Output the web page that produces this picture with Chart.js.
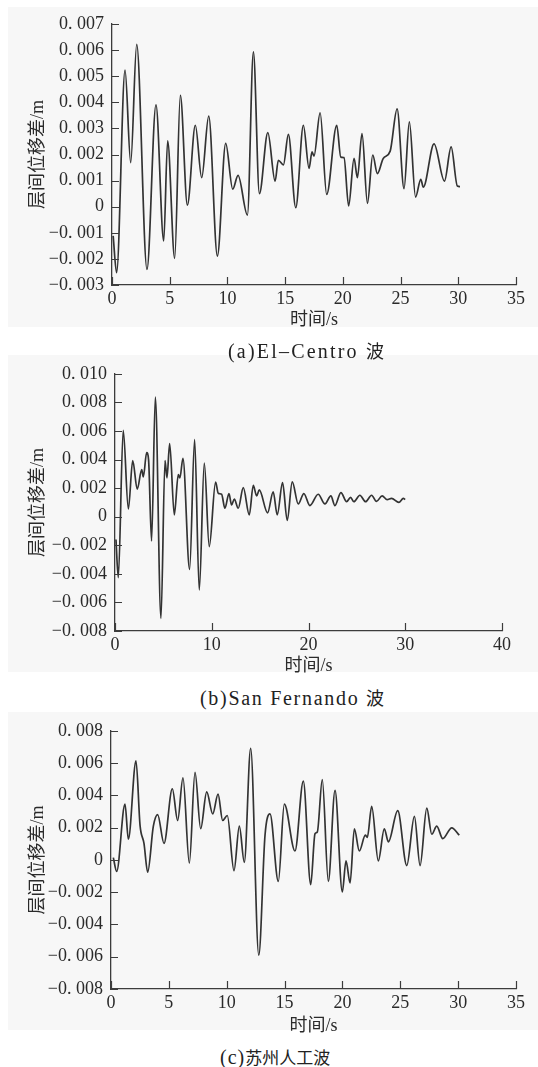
<!DOCTYPE html>
<html>
<head>
<meta charset="utf-8">
<script src="https://cdn.jsdelivr.net/npm/chart.js@4.4.1/dist/chart.umd.min.js"></script>
<style>
  html, body { margin: 0; padding: 0; background: #ffffff; }
  body { width: 538px; height: 1067px; position: relative; overflow: hidden; }
  .panel { position: absolute; background: #f7f7f7; }
  canvas { position: absolute; left: 0; }
  .cap { position: absolute; white-space: nowrap; font-family: 'Liberation Serif', 'Noto Sans CJK SC';
         font-size: 20px; color: #222; line-height: 24px; }
  .cap .zh { font-size: 18px; letter-spacing: 0; }
</style>
</head>
<body>
<div class="panel" style="left:8px;top:7px;width:530px;height:320px;"></div>
<div class="panel" style="left:8px;top:355px;width:530px;height:317px;"></div>
<div class="panel" style="left:8px;top:712px;width:530px;height:318px;"></div>

<canvas id="ca" width="538" height="335" style="top:0px;"></canvas>
<canvas id="cb" width="538" height="325" style="top:355px;"></canvas>
<canvas id="cc" width="538" height="328" style="top:712px;"></canvas>

<div class="cap" style="left:228px;top:339px;letter-spacing:2.2px;">(a)El–Centro <span class="zh">波</span></div>
<div class="cap" style="left:200px;top:686px;letter-spacing:1.7px;">(b)San Fernando <span class="zh">波</span></div>
<div class="cap" style="left:220px;top:1045px;letter-spacing:1px;">(c)<span class="zh" style="font-size:17px;">苏州人工波</span></div>

<script>
// ---------- data (time in s, drift in m) ----------
const timeA = [0.1, 0.4, 1.13, 1.62, 2.14, 3.03, 3.81, 4.48, 4.82, 5.43, 5.92, 6.53, 7.22, 7.77, 8.38, 9.13, 9.85, 10.46, 10.92, 11.73, 12.25, 12.77, 13.5, 14.13, 14.41, 14.85, 15.28, 15.92, 16.58, 17.07, 17.33, 17.5, 18.03, 18.6, 19.47, 19.82, 20.1, 20.5, 20.97, 21.26, 21.66, 22.13, 22.59, 22.99, 23.5, 24.1, 24.7, 25.3, 25.76, 26.3, 26.75, 26.97, 27.9, 28.8, 29.38, 29.92, 30.15];
const driftA = [-0.00112, -0.00253, 0.00523, 0.00169, 0.00622, -0.0024, 0.0039, -0.00131, 0.00252, -0.00198, 0.00427, 0.00006, 0.00312, 0.00111, 0.00347, -0.00189, 0.00243, 0.00067, 0.0012, -0.00032, 0.00593, 0.0005, 0.00284, 0.00098, 0.00178, 0.0016, 0.00277, -0.00004, 0.00312, 0.00147, 0.0021, 0.00194, 0.0036, 0.00047, 0.00312, 0.0019, 0.00188, 0.00003, 0.00185, 0.00111, 0.0028, 0.00013, 0.00198, 0.00127, 0.00185, 0.00213, 0.00375, 0.00069, 0.00325, 0.00037, 0.00105, 0.00075, 0.00241, 0.00098, 0.00229, 0.00079, 0.00077];

const timeB = [0.1, 0.34, 0.85, 1.38, 1.83, 2.3, 2.76, 2.93, 3.27, 3.47, 3.78, 4.17, 4.75, 5.17, 5.37, 5.65, 6.13, 6.54, 6.71, 7.02, 7.71, 8.23, 8.71, 9.23, 9.74, 10.4, 10.67, 11.02, 11.36, 11.78, 12.05, 12.33, 12.74, 13.26, 13.88, 14.29, 14.64, 14.91, 15.77, 16.35, 16.77, 17.32, 17.8, 18.32, 18.94, 19.52, 20.14, 21.0, 21.7, 22.31, 22.73, 23.35, 23.94, 24.35, 24.69, 25.31, 25.9, 26.52, 27.03, 27.61, 28.13, 28.58, 29.34, 29.8, 30.0];
const driftB = [-0.0016, -0.00426, 0.00604, 0.00054, 0.00393, 0.00192, 0.00329, 0.00279, 0.00448, 0.00398, -0.0017, 0.00837, -0.00712, 0.00393, 0.00272, 0.00512, 0.00013, 0.00295, 0.00272, 0.00409, -0.00369, 0.0054, -0.00513, 0.00375, -0.00209, 0.00242, 0.00164, 0.00157, 0.00059, 0.00162, 0.00082, 0.00123, 0.00059, 0.00203, 0.00013, 0.00219, 0.00146, 0.00187, 0.00027, 0.00174, 0.00013, 0.00238, -0.00026, 0.00244, 0.00089, 0.00162, 0.00078, 0.00157, 0.00089, 0.00146, 0.00078, 0.00169, 0.00105, 0.00135, 0.00105, 0.0015, 0.00105, 0.0015, 0.00107, 0.00146, 0.00119, 0.00128, 0.001, 0.00128, 0.0012];

const timeC = [0.2, 0.49, 1.21, 1.5, 2.16, 2.51, 2.85, 3.17, 3.66, 4.03, 4.58, 5.3, 5.76, 6.22, 6.77, 7.26, 7.75, 8.27, 8.79, 9.25, 9.65, 10.05, 10.63, 11.09, 11.52, 12.07, 12.77, 13.31, 13.74, 14.46, 14.98, 15.9, 16.62, 17.26, 17.63, 17.83, 18.26, 18.78, 19.36, 19.99, 20.31, 20.66, 21.03, 21.46, 21.98, 22.15, 22.53, 23.1, 23.62, 23.97, 24.78, 25.56, 26.22, 26.71, 27.29, 27.72, 28.15, 28.67, 29.45, 30.1];
const driftC = [0.00014, -0.00071, 0.00346, 0.00128, 0.00614, 0.00214, 0.00102, -0.00076, 0.00209, 0.00281, 0.00102, 0.00441, 0.00244, 0.00509, -0.0002, 0.00543, 0.00193, 0.00421, 0.00285, 0.00407, 0.00244, 0.00275, -0.00067, 0.00209, -0.00015, 0.00692, -0.0059, 0.00153, 0.00285, -0.00133, 0.00346, 0.00055, 0.00488, -0.00153, 0.00162, 0.00173, 0.00498, -0.00133, 0.00431, -0.00198, -0.00006, -0.00143, 0.00193, 0.00055, 0.00153, 0.0014, 0.00332, -0.00006, 0.00193, 0.00112, 0.00305, -0.00035, 0.0027, -0.00035, 0.00321, 0.00159, 0.00209, 0.00132, 0.00199, 0.00153];

// ---------- ticks ----------
const xTicksA = [0, 5, 10, 15, 20, 25, 30, 35];
const xLabelsA = ['0', '5', '10', '15', '20', '25', '30', '35'];
const yTicksA = [-0.003, -0.002, -0.001, 0, 0.001, 0.002, 0.003, 0.004, 0.005, 0.006, 0.007];
const yLabelsA = ['−0. 003', '−0. 002', '−0. 001', '0', '0. 001', '0. 002', '0. 003', '0. 004', '0. 005', '0. 006', '0. 007'];

const xTicksB = [0, 10, 20, 30, 40];
const xLabelsB = ['0', '10', '20', '30', '40'];
const yTicksB = [-0.008, -0.006, -0.004, -0.002, 0, 0.002, 0.004, 0.006, 0.008, 0.010];
const yLabelsB = ['−0. 008', '−0. 006', '−0. 004', '−0. 002', '0', '0. 002', '0. 004', '0. 006', '0. 008', '0. 010'];

const xTicksC = [0, 5, 10, 15, 20, 25, 30, 35];
const xLabelsC = ['0', '5', '10', '15', '20', '25', '30', '35'];
const yTicksC = [-0.008, -0.006, -0.004, -0.002, 0, 0.002, 0.004, 0.006, 0.008];
const yLabelsC = ['−0. 008', '−0. 006', '−0. 004', '−0. 002', '0', '0. 002', '0. 004', '0. 006', '0. 008'];

const yTitle = '层间位移差/m';
const xTitle = '时间/s';

// ---------- helpers ----------
const FONT = "'Liberation Serif', 'Noto Sans CJK SC'";
const AXIS_COLOR = '#3c3c3c';
const TEXT_COLOR = '#2a2a2a';

const inwardTicks = {
  id: 'inwardTicks',
  afterDraw(chart) {
    const ctx = chart.ctx;
    const area = chart.chartArea;
    const xs = chart.scales.x, ys = chart.scales.y;
    ctx.save();
    ctx.strokeStyle = AXIS_COLOR;
    ctx.lineWidth = 1.2;
    ctx.beginPath();
    xs.ticks.forEach(t => {
      const px = Math.round(xs.getPixelForValue(t.value)) + 0.5;
      ctx.moveTo(px, area.bottom);
      ctx.lineTo(px, area.bottom - 8);
    });
    ys.ticks.forEach(t => {
      const py = Math.round(ys.getPixelForValue(t.value)) + 0.5;
      ctx.moveTo(area.left, py);
      ctx.lineTo(area.left + 7, py);
    });
    ctx.stroke();
    ctx.restore();
  }
};

function makeChart(id, times, values, xTicks, xLabels, yTicks, yLabels, geom) {
  const pts = times.map((t, i) => ({ x: t, y: values[i] }));
  return new Chart(document.getElementById(id), {
    type: 'line',
    data: {
      datasets: [{
        data: pts,
        borderColor: '#333333',
        borderWidth: 1.7,
        pointRadius: 0,
        fill: false,
        cubicInterpolationMode: 'monotone'
      }]
    },
    options: {
      responsive: false,
      animation: false,
      devicePixelRatio: 1,
      layout: { padding: { top: geom.padTop, right: geom.padRight, left: 0, bottom: 0 } },
      plugins: { legend: { display: false }, tooltip: { enabled: false } },
      scales: {
        x: {
          type: 'linear',
          min: xTicks[0],
          max: xTicks[xTicks.length - 1],
          afterBuildTicks: s => { s.ticks = xTicks.map(v => ({ value: v })); },
          afterFit: s => { s.height = geom.xHeight; },
          grid: { display: false, drawTicks: false },
          border: { display: true, color: AXIS_COLOR, width: 1.3 },
          ticks: {
            padding: 3,
            color: TEXT_COLOR,
            font: { family: FONT, size: 18 },
            maxRotation: 0,
            autoSkip: false,
            callback: (v, i) => xLabels[i]
          },
          title: {
            display: true,
            text: xTitle,
            color: TEXT_COLOR,
            font: { family: FONT, size: 18 },
            padding: { top: 0, bottom: geom.xTitlePad }
          }
        },
        y: {
          type: 'linear',
          min: yTicks[0],
          max: yTicks[yTicks.length - 1],
          afterBuildTicks: s => { s.ticks = yTicks.map(v => ({ value: v })); },
          afterFit: s => { s.width = geom.yWidth; },
          grid: { display: false, drawTicks: false },
          border: { display: true, color: AXIS_COLOR, width: 1.3 },
          ticks: {
            padding: 8,
            color: TEXT_COLOR,
            font: { family: FONT, size: 18 },
            autoSkip: false,
            callback: (v, i) => yLabels[i]
          },
          title: {
            display: true,
            text: yTitle,
            color: TEXT_COLOR,
            font: { family: FONT, size: 18 },
            padding: { top: 27, bottom: 0 }
          }
        }
      }
    },
    plugins: [inwardTicks]
  });
}

makeChart('ca', timeA, driftA, xTicksA, xLabelsA, yTicksA, yLabelsA,
  { padTop: 24, padRight: 22, xHeight: 50, yWidth: 112, xTitlePad: 4 });
makeChart('cb', timeB, driftB, xTicksB, xLabelsB, yTicksB, yLabelsB,
  { padTop: 14, padRight: 36, xHeight: 49, yWidth: 115, xTitlePad: 3 });
makeChart('cc', timeC, driftC, xTicksC, xLabelsC, yTicksC, yLabelsC,
  { padTop: 15, padRight: 22, xHeight: 51, yWidth: 111, xTitlePad: 3 });
</script>
</body>
</html>
